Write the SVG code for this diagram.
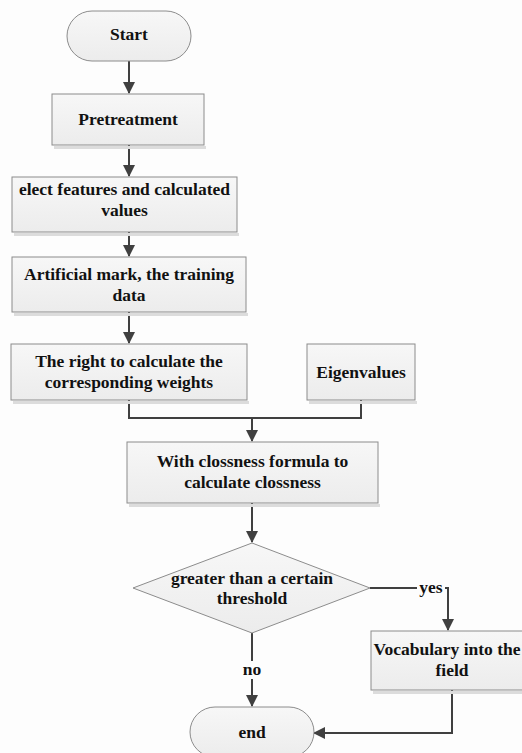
<svg xmlns="http://www.w3.org/2000/svg" width="522" height="753" viewBox="0 0 522 753">
<defs>
<linearGradient id="g" x1="0" y1="0" x2="0" y2="1">
<stop offset="0" stop-color="#f7f7f7"/>
<stop offset="1" stop-color="#ececec"/>
</linearGradient>
<marker id="ahb" viewBox="0 0 12 12" markerWidth="12" markerHeight="12" refX="11" refY="6" orient="auto" markerUnits="userSpaceOnUse">
<path d="M0,0 L12,6 L0,12 z" fill="#404040"/>
</marker>
</defs>
<style>
.n{fill:url(#g);stroke:#8c8c8c;stroke-width:1}
.sh{fill:#dcdcdc;stroke:none}
.t{font-family:"Liberation Serif","Times New Roman",serif;font-weight:bold;font-size:17.5px;fill:#111;text-anchor:middle}
.c{fill:none;stroke:#404040;stroke-width:2}
</style>
<rect width="522" height="753" fill="#fdfdfd"/>
<g id="connectors">
<line class="c" x1="129" y1="61" x2="129" y2="93" marker-end="url(#ahb)"/>
<line class="c" x1="129" y1="145" x2="129" y2="176" marker-end="url(#ahb)"/>
<line class="c" x1="129" y1="232" x2="129" y2="256" marker-end="url(#ahb)"/>
<line class="c" x1="129" y1="312" x2="129" y2="343" marker-end="url(#ahb)"/>
<polyline class="c" points="129,400 129,418 361,418 361,400"/>
<line class="c" x1="252" y1="418" x2="252" y2="441" marker-end="url(#ahb)"/>
<line class="c" x1="252" y1="503" x2="252" y2="542" marker-end="url(#ahb)"/>
<polyline class="c" points="252,633 252,706" marker-end="url(#ahb)"/>
<polyline class="c" points="370,588 448,588 448,630" marker-end="url(#ahb)"/>
<polyline class="c" points="452,690 452,733 314,733" marker-end="url(#ahb)"/>
<rect x="417" y="579" width="28" height="16" fill="#fdfdfd"/>
<text class="t" x="431" y="593">yes</text>
<rect x="240" y="661" width="24" height="18" fill="#fdfdfd"/>
<text class="t" x="252" y="675">no</text>
</g>
<g id="start">
<rect class="n" x="67" y="11" width="124" height="50" rx="25"/>
<text class="t" x="129" y="40">Start</text>
</g>
<g id="pretreatment">
<rect class="sh" x="54" y="146" width="152" height="3"/>
<rect class="n" x="52" y="94" width="152" height="51"/>
<text class="t" x="128" y="125">Pretreatment</text>
</g>
<g id="select">
<rect class="sh" x="14" y="233" width="225" height="3"/>
<rect class="n" x="12" y="177" width="225" height="55"/>
<text class="t" x="124.5" y="195">elect features and calculated</text>
<text class="t" x="124.5" y="216">values</text>
</g>
<g id="artificial">
<rect class="sh" x="14" y="313" width="234" height="3"/>
<rect class="n" x="12" y="257" width="234" height="55"/>
<text class="t" x="129" y="280">Artificial mark, the training</text>
<text class="t" x="129" y="301">data</text>
</g>
<g id="weights">
<rect class="sh" x="13" y="401" width="236" height="3"/>
<rect class="n" x="11" y="344" width="236" height="56"/>
<text class="t" x="129" y="367">The right to calculate the</text>
<text class="t" x="129" y="388">corresponding weights</text>
</g>
<g id="eigenvalues">
<rect class="sh" x="309" y="401" width="108" height="3"/>
<rect class="n" x="307" y="344" width="108" height="56"/>
<text class="t" x="361" y="378">Eigenvalues</text>
</g>
<g id="closeness">
<rect class="sh" x="129" y="504" width="251" height="3"/>
<rect class="n" x="127" y="442" width="251" height="61"/>
<text class="t" x="252.5" y="467">With clossness formula to</text>
<text class="t" x="252.5" y="488">calculate clossness</text>
</g>
<g id="decision">
<polygon class="n" points="252,543 370,588 252,633 133,588"/>
<text class="t" x="252" y="584">greater than a certain</text>
<text class="t" x="252" y="604">threshold</text>
</g>
<g id="vocabulary">
<rect class="sh" x="373" y="691" width="162" height="3"/>
<rect class="n" x="371" y="631" width="162" height="59"/>
<text class="t" x="447" y="655">Vocabulary into the</text>
<text class="t" x="452" y="676">field</text>
</g>
<g id="end">
<rect class="n" x="190" y="707" width="124" height="50" rx="25"/>
<text class="t" x="252" y="738">end</text>
</g>
</svg>
